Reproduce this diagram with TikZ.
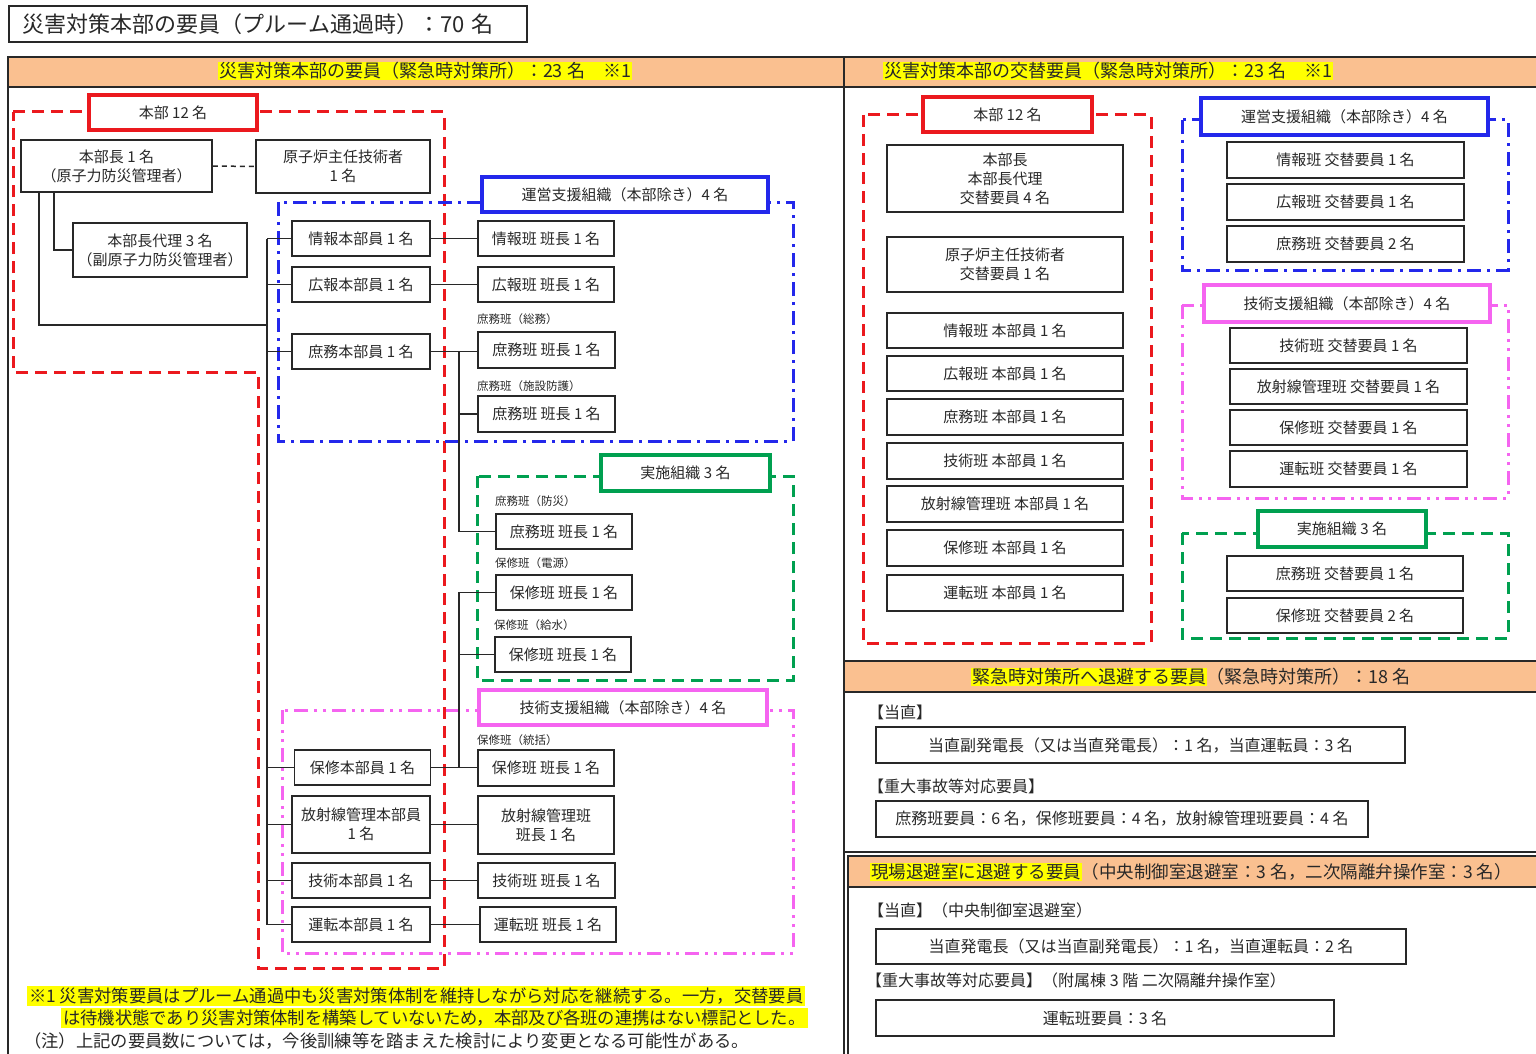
\documentclass[tikz,border=0pt]{standalone}
\usepackage{fontspec}
\setmainfont{Noto Sans CJK JP}
\usetikzlibrary{calc}
\definecolor{ink}{RGB}{40,40,40}
\definecolor{cred}{RGB}{235,25,30}
\definecolor{cblue}{RGB}{35,40,235}
\definecolor{cgreen}{RGB}{0,160,80}
\definecolor{cpink}{RGB}{245,100,240}
\definecolor{cband}{RGB}{250,192,144}
\definecolor{chl}{RGB}{255,255,0}
\newcommand\myfs[2]{\fontsize{#1}{#2}\selectfont}
\newcommand\myhl[1]{{\setlength{\fboxsep}{0.8pt}\colorbox{chl}{#1}}}
\newcommand\myhlb[1]{{\setlength{\fboxsep}{2pt}\colorbox{chl}{#1}}}
\tikzset{
  wh/.style 2 args={minimum width=#1, minimum height=#2},
  bx/.style={draw=ink, line width=1.7pt, fill=white, text=ink, align=center, inner sep=0pt, font=\myfs{15}{19}},
  lbl/.style={line width=3.4pt, fill=white, text=ink, align=center, inner sep=0pt, font=\myfs{15}{19}},
  smlbl/.style={anchor=west, inner sep=0pt, text=ink, font=\myfs{11.5}{14}},
  txt/.style={anchor=west, inner sep=0pt, text=ink, font=\myfs{16}{19}},
  conn/.style={draw=ink, line width=1.5pt},
  frR/.style={draw=cred, line width=3pt, dash pattern=on 12pt off 7pt},
  frB/.style={draw=cblue, line width=3pt, dash pattern=on 14pt off 6pt on 3pt off 6pt},
  frG/.style={draw=cgreen, line width=3pt, dash pattern=on 12pt off 7pt},
  frP/.style={draw=cpink, line width=3pt, dash pattern=on 14pt off 6pt on 3pt off 6pt on 3pt off 6pt},
  panel/.style={draw=ink, line width=1.7pt},
}
\begin{document}
\begin{tikzpicture}[x=1pt,y=-1pt]
\useasboundingbox (0,0) rectangle (1536,1054);
\fill[white] (0,0) rectangle (1536,1054);

% ---------- title ----------
\node[draw=ink, line width=1.7pt, anchor=west, text width=490pt, inner xsep=14pt, inner ysep=0pt, minimum height=36pt, align=left, font=\myfs{22}{26}, text=ink] (title) at (8,24) {災害対策本部の要員（プルーム通過時）：70 名};

% ---------- panels ----------
\fill[cband] (8,57) rectangle (844,87);
\fill[cband] (844,57) rectangle (1540,87);
\draw[panel] (8,57) rectangle (844,1070);
\draw[panel] (8,87) -- (844,87);
\draw[panel] (844,57) rectangle (1540,661);
\draw[panel] (844,87) -- (1540,87);
\fill[cband] (844,661) rectangle (1540,692);
\draw[panel] (844,661) rectangle (1540,852);
\draw[panel] (844,692) -- (1540,692);
\draw[panel] (844,852) -- (844,1070);
\fill[cband] (848,856) rectangle (1540,887);
\draw[panel] (848,856) rectangle (1540,1070);
\draw[panel] (848,887) -- (1540,887);

\node[inner sep=0pt, font=\myfs{18}{21}, text=ink] (hdL) at (425,71) {\myhl{災害対策本部の要員（緊急時対策所）：23 名　※1}};
\node[inner sep=0pt, font=\myfs{18}{21}, text=ink] (hdR) at (1108,71) {\myhl{災害対策本部の交替要員（緊急時対策所）：23 名　※1}};
\node[inner sep=0pt, font=\myfs{18}{21}, text=ink] (hdM) at (1191,677) {\myhl{緊急時対策所へ退避する要員}（緊急時対策所）：18 名};
\node[inner sep=0pt, font=\myfs{17.5}{21}, text=ink] (hdB) at (1191,872) {\myhl{現場退避室に退避する要員}（中央制御室退避室：3 名，二次隔離弁操作室：3 名）};

% ---------- left frames ----------
\draw[frR] (13,112) -- (444,112) -- (444,968) -- (258,968) -- (258,372) -- (13,372) -- cycle;
\draw[frB] (278,202) rectangle (793,441);
\draw[frG] (477,476) rectangle (793,680);
\draw[frP] (282,710) rectangle (793,953);

% ---------- left nodes ----------
\node[lbl, draw=cred, wh={168}{35}] (hqL) at (173,112.5) {本部 12 名};
\node[bx, wh={191}{52}] (chief) at (116.5,166) {本部長 1 名\\（原子力防災管理者）};
\node[bx, wh={174}{53}] (reactor) at (343,166.5) {原子炉主任技術者\\1 名};
\node[bx, wh={174}{54}] (deputy) at (160,250) {本部長代理 3 名\\（副原子力防災管理者）};

\node[lbl, draw=cblue, wh={286}{35}] (opsupL) at (625,194.5) {運営支援組織（本部除き）4 名};
\node[bx, wh={138}{35}] (infoH) at (361,238.5) {情報本部員 1 名};
\node[bx, wh={138}{35}] (prH) at (361,284.5) {広報本部員 1 名};
\node[bx, wh={138}{35}] (genH) at (361,351.5) {庶務本部員 1 名};
\node[bx, wh={136}{35}] (infoL) at (546,238.5) {情報班 班長 1 名};
\node[bx, wh={136}{35}] (prL) at (546,284.5) {広報班 班長 1 名};
\node[smlbl] (s1) at (477,319) {庶務班（総務）};
\node[bx, wh={137}{36}] (genL1) at (546.5,350) {庶務班 班長 1 名};
\node[smlbl] (s2) at (477,386) {庶務班（施設防護）};
\node[bx, wh={137}{36}] (genL2) at (546.5,414) {庶務班 班長 1 名};

\node[lbl, draw=cgreen, wh={169}{36}] (implL) at (685.5,473) {実施組織 3 名};
\node[smlbl] (s3) at (495,501) {庶務班（防災）};
\node[bx, wh={136}{35}] (genL3) at (564,531.5) {庶務班 班長 1 名};
\node[smlbl] (s4) at (495,563) {保修班（電源）};
\node[bx, wh={136}{35}] (mntL1) at (564,592.5) {保修班 班長 1 名};
\node[smlbl] (s5) at (494,625) {保修班（給水）};
\node[bx, wh={136}{35}] (mntL2) at (563,654.5) {保修班 班長 1 名};

\node[lbl, draw=cpink, wh={288}{35}] (techsupL) at (623,707.5) {技術支援組織（本部除き）4 名};
\node[smlbl] (s6) at (477,740) {保修班（統括）};
\node[bx, wh={136}{35}] (mntH) at (362.5,767.5) {保修本部員 1 名};
\node[bx, wh={136}{36}] (mntL4) at (546,768) {保修班 班長 1 名};
\node[bx, wh={138}{57}] (radH) at (361,824.5) {放射線管理本部員\\1 名};
\node[bx, wh={136}{58}] (radL) at (546,825) {放射線管理班\\班長 1 名};
\node[bx, wh={138}{35}] (techH) at (361,880.5) {技術本部員 1 名};
\node[bx, wh={137}{35}] (techL) at (546.5,880.5) {技術班 班長 1 名};
\node[bx, wh={138}{35}] (opsH) at (361,924.5) {運転本部員 1 名};
\node[bx, wh={136}{35}] (opsL) at (548,924.5) {運転班 班長 1 名};

% ---------- left connectors ----------
\draw[ink, line width=1.5pt, dash pattern=on 5pt off 4pt] (chief.east) -- (reactor.west);
\coordinate (tA) at (39,325);
\coordinate (tB) at (267,325);
\draw[conn] (chief.south -| tA) -- (tA) -- (tB);
\coordinate (dA) at (54,250);
\draw[conn] (chief.south -| dA) -- (dA) -- (deputy.west);
\coordinate (trT) at (267,238.5);
\coordinate (trB) at (267,924.5);
\draw[conn] (trT) -- (trB);
\foreach \n in {infoH,prH,genH,mntH,radH,techH,opsH}
  \draw[conn] (trT |- \n.west) -- (\n.west);
\foreach \a/\b in {infoH/infoL,prH/prL,genH/genL1,mntH/mntL4,radH/radL,techH/techL,opsH/opsL}
  \draw[conn] (\a.east) -- (\a.east -| \b.west);
\coordinate (gvx) at (459,0);
\draw[conn] (genH.east -| gvx) -- (genL3.west -| gvx) -- (genL3.west);
\draw[conn] (genL2.west -| gvx) -- (genL2.west);
\draw[conn] (mntH.east -| gvx) -- (mntL1.west -| gvx) -- (mntL1.west);
\draw[conn] (mntL2.west -| gvx) -- (mntL2.west);

% ---------- footnotes ----------
\node[anchor=west, inner sep=0pt, font=\myfs{17.3}{20}, text=ink] (fn1) at (27,996) {\myhlb{※1 災害対策要員はプルーム通過中も災害対策体制を維持しながら対応を継続する。一方，交替要員}};
\node[anchor=west, inner sep=0pt, font=\myfs{17.3}{20}, text=ink] (fn2) at (61,1018) {\myhlb{は待機状態であり災害対策体制を構築していないため，本部及び各班の連携はない標記とした。}};
\node[anchor=west, inner sep=0pt, font=\myfs{17.3}{20}, text=ink] (fn3) at (24,1041) {（注）上記の要員数については，今後訓練等を踏まえた検討により変更となる可能性がある。};

% ---------- right frames ----------
\draw[frR] (863,115) rectangle (1151,643);
\draw[frB] (1182,120) rectangle (1508,270);
\draw[frP] (1182,305) rectangle (1508,498);
\draw[frG] (1182,533) rectangle (1508,638);

% ---------- right nodes ----------
\node[lbl, draw=cred, wh={169}{35}] (hqR) at (1007.5,114.5) {本部 12 名};
\node[bx, wh={236}{67}] (r1) at (1005,178.5) {本部長\\本部長代理\\交替要員 4 名};
\node[bx, wh={236}{55}] (r2) at (1005,264.5) {原子炉主任技術者\\交替要員 1 名};
\node[bx, wh={236}{35}] (r3) at (1005,330.5) {情報班 本部員 1 名};
\node[bx, wh={236}{35}] (r4) at (1005,373.5) {広報班 本部員 1 名};
\node[bx, wh={236}{36}] (r5) at (1005,417) {庶務班 本部員 1 名};
\node[bx, wh={236}{36}] (r6) at (1005,461) {技術班 本部員 1 名};
\node[bx, wh={236}{36}] (r7) at (1005,504) {放射線管理班 本部員 1 名};
\node[bx, wh={236}{36}] (r8) at (1005,548) {保修班 本部員 1 名};
\node[bx, wh={236}{36}] (r9) at (1005,593) {運転班 本部員 1 名};

\node[lbl, draw=cblue, wh={287}{37}] (opsupR) at (1344.5,116.5) {運営支援組織（本部除き）4 名};
\node[bx, wh={237}{36}] (b1) at (1345.5,160) {情報班 交替要員 1 名};
\node[bx, wh={237}{36}] (b2) at (1345.5,202) {広報班 交替要員 1 名};
\node[bx, wh={237}{36}] (b3) at (1345.5,244) {庶務班 交替要員 2 名};

\node[lbl, draw=cpink, wh={286}{37}] (techsupR) at (1347,303.5) {技術支援組織（本部除き）4 名};
\node[bx, wh={237}{35}] (p1) at (1348.5,345.5) {技術班 交替要員 1 名};
\node[bx, wh={237}{35}] (p2) at (1348.5,386.5) {放射線管理班 交替要員 1 名};
\node[bx, wh={237}{35}] (p3) at (1348.5,427.5) {保修班 交替要員 1 名};
\node[bx, wh={237}{36}] (p4) at (1348.5,469) {運転班 交替要員 1 名};

\node[lbl, draw=cgreen, wh={168}{36}] (implR) at (1342,529) {実施組織 3 名};
\node[bx, wh={236}{35}] (g1) at (1345,573.5) {庶務班 交替要員 1 名};
\node[bx, wh={236}{35}] (g2) at (1345,615.5) {保修班 交替要員 2 名};

% ---------- lower right ----------
\node[txt] (t1) at (868,712) {【当直】};
\node[bx, wh={529}{36}, font=\myfs{16}{19}] (m1) at (1140.5,745) {当直副発電長（又は当直発電長）：1 名，当直運転員：3 名};
\node[txt] (t2) at (868,786) {【重大事故等対応要員】};
\node[bx, wh={492}{36}, font=\myfs{16}{19}] (m2) at (1122,819) {庶務班要員：6 名，保修班要員：4 名，放射線管理班要員：4 名};

\node[txt] (t3) at (868,910) {【当直】（中央制御室退避室）};
\node[bx, wh={530}{35}, font=\myfs{16}{19}] (m3) at (1141,946.5) {当直発電長（又は当直副発電長）：1 名，当直運転員：2 名};
\node[txt] (t4) at (866,980) {【重大事故等対応要員】（附属棟 3 階 二次隔離弁操作室）};
\node[bx, wh={458}{36}, font=\myfs{16}{19}] (m4) at (1105,1018) {運転班要員：3 名};

\end{tikzpicture}
\end{document}
